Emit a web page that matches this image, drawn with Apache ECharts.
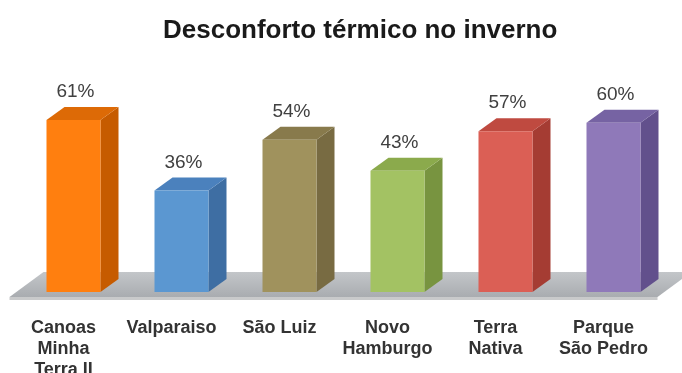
<!DOCTYPE html>
<html>
<head>
<meta charset="utf-8">
<script src="https://cdn.jsdelivr.net/npm/echarts@6/dist/echarts.min.js"></script>
<style>
  html, body { margin: 0; padding: 0; background: #ffffff; }
  #chart { width: 682px; height: 373px; }
</style>
</head>
<body>
<div id="chart"></div>
<script>
// Winter thermal discomfort by neighbourhood (% of respondents)
const categories = ['Canoas\nMinha\nTerra II', 'Valparaiso', 'São Luiz', 'Novo\nHamburgo', 'Terra\nNativa', 'Parque\nSão Pedro'];
const values = [61, 36, 54, 43, 57, 60];

// Face colours for each pseudo-3D column: front, right side, top
const frontColors = ['#FF7F0F', '#5B97D1', '#A0925D', '#A3C263', '#DB5F55', '#8F79B9'];
const sideColors  = ['#C65B00', '#3E6EA3', '#786B42', '#789440', '#A53C33', '#62508C'];
const topColors   = ['#DD6A06', '#4B81BD', '#887A4C', '#8BAA4C', '#BF4A40', '#7663A3'];

const FONT = "'Liberation Sans', Arial, sans-serif";
const DEPTH_X = 18, DEPTH_Y = -13;

const chart = echarts.init(document.getElementById('chart'), null, { renderer: 'canvas' });

// Grey platform underneath the columns, spanning the whole category axis
function renderFloor(params, api) {
  const first = api.coord([0, 0]);
  const last = api.coord([categories.length - 1, 0]);
  const band = api.size([1, 0])[0];
  const xl = first[0] - band / 2;
  const xr = last[0] + band / 2;
  const y = first[1];
  return {
    type: 'group',
    children: [
      {
        type: 'polygon',
        shape: { points: [[xl - 10, y + 5], [xl - 10, y + 8], [xr - 10, y + 8], [xr - 10, y + 5]] },
        style: { fill: '#C9CACB' }
      },
      {
        type: 'polygon',
        shape: { points: [[xl - 10, y + 5], [xl + 24, y - 20], [xr + 24, y - 20], [xr - 10, y + 5]] },
        style: {
          fill: new echarts.graphic.LinearGradient(0, 0, 0, 1, [
            { offset: 0, color: '#C3C6C9' },
            { offset: 1, color: '#A9ACB0' }
          ])
        }
      }
    ]
  };
}

// One column: right side face, top face, front face and the value label
function renderBar(params, api) {
  const i = api.value(0);
  const v = api.value(1);
  const base = api.coord([i, 0]);
  const top = api.coord([i, v]);
  const band = api.size([1, 0])[0];
  const w = band * 0.5;
  const x0 = base[0] - w / 2;
  const x1 = base[0] + w / 2;
  const yb = base[1];
  const yt = top[1];
  return {
    type: 'group',
    children: [
      {
        type: 'polygon',
        shape: { points: [[x1, yt], [x1 + DEPTH_X, yt + DEPTH_Y], [x1 + DEPTH_X, yb + DEPTH_Y], [x1, yb]] },
        style: { fill: sideColors[i] }
      },
      {
        type: 'polygon',
        shape: { points: [[x0, yt], [x0 + DEPTH_X, yt + DEPTH_Y], [x1 + DEPTH_X, yt + DEPTH_Y], [x1, yt]] },
        style: { fill: topColors[i] }
      },
      {
        type: 'rect',
        shape: { x: x0, y: yt, width: w, height: yb - yt },
        style: { fill: frontColors[i] }
      },
      {
        type: 'text',
        x: base[0] + 2,
        y: yt + DEPTH_Y - 15,
        style: {
          text: v + '%',
          align: 'center',
          verticalAlign: 'middle',
          font: '19px ' + FONT,
          fill: '#404040'
        }
      }
    ]
  };
}

const option = {
  backgroundColor: '#ffffff',
  animation: false,
  title: {
    text: 'Desconforto térmico no inverno',
    left: 158,
    top: 13,
    textStyle: { fontFamily: FONT, fontSize: 26, fontWeight: 'bold', color: '#1A1A1A' }
  },
  grid: { left: 19.5, right: 14.5, top: 10, bottom: 81, outerBoundsMode: 'none' },
  xAxis: {
    type: 'category',
    data: categories,
    axisLine: { show: false },
    axisTick: { show: false },
    splitLine: { show: false },
    axisLabel: {
      interval: 0,
      margin: 26,
      padding: [0, 20, 0, 0],
      fontFamily: FONT,
      fontSize: 18,
      fontWeight: 'bold',
      lineHeight: 21,
      color: '#333333'
    }
  },
  yAxis: { type: 'value', min: 0, max: 100, show: false },
  series: [
    {
      type: 'custom',
      renderItem: renderFloor,
      data: [[0, 0]],
      silent: true,
      z: 1
    },
    {
      type: 'custom',
      renderItem: renderBar,
      data: values.map((v, i) => [i, v]),
      z: 2
    }
  ]
};

chart.setOption(option);
</script>
</body>
</html>
